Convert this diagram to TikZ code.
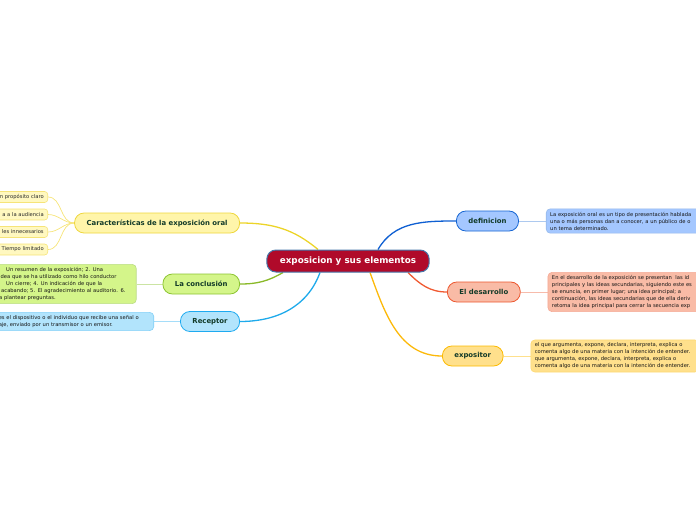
\documentclass[tikz,border=0pt]{standalone}
\usepackage{fontspec}
\setmainfont{DejaVu Sans}
\usetikzlibrary{positioning, backgrounds}
\definecolor{Raiz}{RGB}{176,10,42}
\definecolor{RaizBorde}{RGB}{70,120,170}
\definecolor{TextoTema}{RGB}{18,58,40}
\definecolor{Amarillo}{RGB}{255,245,170}
\definecolor{AmarilloBorde}{RGB}{238,214,60}
\definecolor{AmarilloLinea}{RGB}{236,212,40}
\definecolor{HojaFondo}{RGB}{255,248,192}
\definecolor{HojaBorde}{RGB}{246,228,120}
\definecolor{Verde}{RGB}{212,245,138}
\definecolor{VerdeBorde}{RGB}{140,196,50}
\definecolor{VerdeLinea}{RGB}{138,185,40}
\definecolor{Celeste}{RGB}{178,228,252}
\definecolor{CelesteBorde}{RGB}{30,170,240}
\definecolor{CelesteLinea}{RGB}{30,170,235}
\definecolor{Azul}{RGB}{164,199,255}
\definecolor{AzulBorde}{RGB}{20,100,210}
\definecolor{AzulLinea}{RGB}{15,95,210}
\definecolor{Salmon}{RGB}{249,187,166}
\definecolor{SalmonBorde}{RGB}{236,86,46}
\definecolor{SalmonLinea}{RGB}{240,90,50}
\definecolor{Naranja}{RGB}{255,224,140}
\definecolor{NaranjaBorde}{RGB}{252,186,0}
\definecolor{NaranjaLinea}{RGB}{252,185,10}

\begin{document}
\begin{tikzpicture}[x=1pt, y=1pt,
    raiz/.style={
        rectangle, rounded corners=9pt,
        fill=Raiz, draw=RaizBorde, line width=1pt,
        minimum height=22pt, inner xsep=13pt,
        text=white, font=\fontsize{8.8}{10}\selectfont\bfseries},
    tema/.style={
        rectangle, rounded corners=9.5pt, line width=0.8pt,
        minimum height=20pt, inner xsep=12pt,
        text=TextoTema, font=\fontsize{6.9}{8}\selectfont\bfseries},
    nota/.style={
        rectangle, rounded corners=4pt, line width=0.6pt,
        inner xsep=4pt, inner ysep=3pt, align=left,
        text=black!92, font=\fontsize{5.2}{7}\selectfont},
    hoja/.style={
        rectangle, rounded corners=3pt, line width=0.6pt,
        fill=HojaFondo, draw=HojaBorde, anchor=east,
        text width=52pt, align=right, minimum height=11pt,
        inner xsep=4pt, inner ysep=1pt,
        text=black!85, font=\fontsize{5.2}{7}\selectfont},
    rama/.style={line width=1.3pt},
    liga/.style={line width=0.7pt}]
  \useasboundingbox (0,0) rectangle (696,-520);
  \clip (0,0) rectangle (696,-520);
  % Nodo central
  \node[raiz] (raiz) at (348,-261) {exposicion y sus elementos};
  % Temas a la izquierda
  \node[tema, fill=Amarillo, draw=AmarilloBorde, anchor=east] (carac) at (240,-223)
    {Características de la exposición oral};
  \node[tema, fill=Verde, draw=VerdeBorde, anchor=east] (concl) at (240,-284) {La conclusión};
  \node[tema, fill=Celeste, draw=CelesteBorde, anchor=east] (recep) at (240,-321.5) {Receptor};
  % Temas a la derecha
  \node[tema, fill=Azul, draw=AzulBorde, anchor=west] (defin) at (456,-221) {definicion};
  \node[tema, fill=Salmon, draw=SalmonBorde, anchor=west] (desar) at (447,-292) {El desarrollo};
  \node[tema, fill=Naranja, draw=NaranjaBorde, anchor=west] (expos) at (442,-356) {expositor};
  % Hojas de las características
  \node[hoja] (h1) at (48,-197) {n propósito claro};
  \node[hoja] (h2) at (48,-214.5) {a a la audiencia};
  \node[hoja] (h3) at (48,-232) {les innecesarios};
  \node[hoja] (h4) at (48,-249.5) {Tiempo limitado};
  % Notas
  \node[nota, fill=Verde, draw=VerdeBorde!60, text width=133pt, left=26pt of concl] (tconcl)
    {\hspace*{7pt}Un resumen de la exposición; 2. Una\\
     idea que se ha utilizado como hilo conductor\\
     \hspace*{7pt}Un cierre; 4. Un indicación de que la\\
     \hspace*{2pt}acabando; 5. El agradecimiento al auditorio. 6.\\
     a plantear preguntas.};
  \node[nota, fill=Celeste, draw=CelesteBorde!55, text width=151pt, left=26pt of recep] (trecep)
    {es el dispositivo o el individuo que recibe una señal o\\
     aje, enviado por un transmisor o un emisor.};
  \node[nota, fill=Azul, draw=AzulBorde!45, text width=200pt, right=27pt of defin] (tdefin)
    {La exposición oral es un tipo de presentación hablada\\
     una o más personas dan a conocer, a un público de o\\
     un tema determinado.};
  \node[nota, fill=Salmon, draw=SalmonBorde!50, text width=200pt, right=27pt of desar] (tdesar)
    {En el desarrollo de la exposición se presentan\ \ las id\\
     principales y las ideas secundarias, siguiendo este es\\
     se enuncia, en primer lugar; una idea principal; a\\
     continuación, las ideas secundarias que de ella deriv\\
     retoma la idea principal para cerrar la secuencia exp};
  \node[nota, fill=Naranja, draw=NaranjaBorde!55, text width=160pt, right=27pt of expos] (texpos)
    {el que argumenta, expone, declara, interpreta, explica o\\
     comenta algo de una materia con la intención de entender.\\
     que argumenta, expone, declara, interpreta, explica o\\
     comenta algo de una materia con la intención de entender.};
  % Ramas y ligas por debajo de los nodos
  \begin{pgfonlayer}{background}
    \draw[rama, AmarilloLinea] (carac.east) to[out=0, in=140] ([xshift=-30pt]raiz.north);
    \draw[rama, VerdeLinea] (concl.east) to[out=0, in=-150] ([xshift=-65pt]raiz.south);
    \draw[rama, CelesteLinea] (recep.east) to[out=0, in=-110] ([xshift=-28pt]raiz.south);
    \draw[rama, AzulLinea] (defin.west) to[out=180, in=60] ([xshift=30pt]raiz.north);
    \draw[rama, SalmonLinea] (desar.west) to[out=180, in=-45] ([xshift=60pt]raiz.south);
    \draw[rama, NaranjaLinea] (expos.west) to[out=180, in=-70] ([xshift=22pt]raiz.south);
    \foreach \h in {h1, h2, h3, h4}
      \draw[liga, HojaBorde] (carac.west) to[out=180, in=0] (\h.east);
    \draw[liga, VerdeBorde!45] (concl) -- (tconcl);
    \draw[liga, CelesteBorde!40] (recep) -- (trecep);
    \draw[liga, AzulBorde!35] (defin) -- (tdefin);
    \draw[liga, SalmonBorde!40] (desar) -- (tdesar);
    \draw[liga, NaranjaBorde!45] (expos) -- (texpos);
  \end{pgfonlayer}
\end{tikzpicture}
\end{document}
